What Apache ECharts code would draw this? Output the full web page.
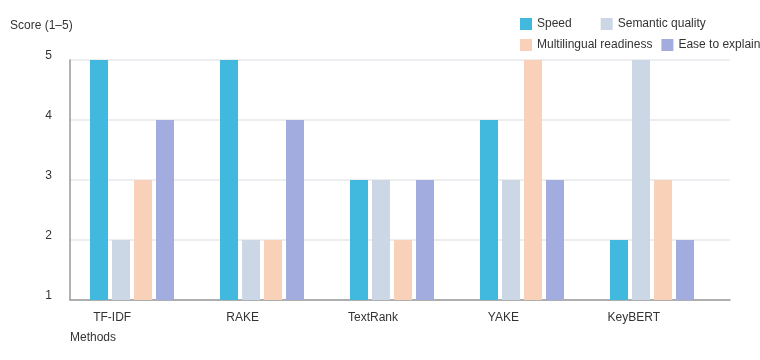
<!DOCTYPE html>
<html><head><meta charset="utf-8">
<script src="https://cdn.jsdelivr.net/npm/echarts@6/dist/echarts.min.js"></script>
<style>html,body{margin:0;padding:0;background:#fff}#c{width:760px;height:360px}</style>
</head><body><div id="c"></div>
<script>
const categories = ['TF-IDF', 'RAKE', 'TextRank', 'YAKE', 'KeyBERT'];
const seriesNames = ['Speed', 'Semantic quality', 'Multilingual readiness', 'Ease to explain'];
const speed = [5, 5, 3, 4, 2];
const semanticQuality = [2, 2, 3, 3, 5];
const multilingualReadiness = [3, 2, 2, 5, 3];
const easeToExplain = [4, 4, 3, 3, 2];
const yTicks = [1, 2, 3, 4, 5];
const colors = ['#41b9de', '#cbd7e4', '#f9d0b8', '#a3acdf'];

const values = [speed, semanticQuality, multilingualReadiness, easeToExplain];
const font = 'Liberation Sans, Arial, sans-serif';
const chart = echarts.init(document.getElementById('c'), null, {renderer: 'canvas'});
chart.setOption({
  animation: false,
  textStyle: {fontFamily: font},
  title: [
    {text: 'Score (1–5)', left: 5, top: 15, textStyle: {fontSize: 12, fontWeight: 'normal', color: '#333', fontFamily: font}},
    {text: 'Methods', left: 65, top: 327, textStyle: {fontSize: 12, fontWeight: 'normal', color: '#333', fontFamily: font}}
  ],
  legend: [
    {data: seriesNames.slice(0, 2), left: 515, top: 13, width: 260, itemWidth: 12, itemHeight: 12, itemGap: 29,
     icon: 'rect', textStyle: {fontSize: 12, color: '#333', fontFamily: font}},
    {data: seriesNames.slice(2), left: 515, top: 34, width: 260, itemWidth: 12, itemHeight: 12, itemGap: 9,
     icon: 'rect', textStyle: {fontSize: 12, color: '#333', fontFamily: font}}
  ],
  grid: [
    {left: 67, right: 43, top: 60, bottom: 60},
    {left: 70, right: 30, top: 60, bottom: 60},
    {left: 47, right: 61, top: 60, bottom: 60}
  ],
  xAxis: [
    {gridIndex: 0, type: 'category', data: categories, axisLine: {show: false}, axisTick: {show: false}, axisLabel: {show: false}},
    {gridIndex: 1, type: 'value', min: 0, max: 1, axisLine: {show: true, onZero: false, lineStyle: {color: '#999', width: 1.5}},
     axisTick: {show: false}, axisLabel: {show: false}, splitLine: {show: false}},
    {gridIndex: 2, type: 'category', data: categories, axisLine: {show: false}, axisTick: {show: false},
     axisLabel: {show: true, margin: 12, fontSize: 12, color: '#333', fontFamily: font}}
  ],
  yAxis: [
    {gridIndex: 0, type: 'value', min: 1, max: 5, show: false},
    {gridIndex: 1, type: 'value', min: 1, max: 5, interval: 1,
     axisLine: {show: true, lineStyle: {color: '#999', width: 1.5}}, axisTick: {show: false},
     axisLabel: {margin: 18, fontSize: 12, color: '#333', fontFamily: font, verticalAlign: 'bottom', lineHeight: 9,
       formatter: v => yTicks.includes(v) ? String(v) : ''},
     splitLine: {show: true, lineStyle: {color: '#e6e8ec', width: 1.5}}},
    {gridIndex: 2, type: 'value', min: 1, max: 5, show: false}
  ],
  series: seriesNames.map((name, i) => ({
    name, type: 'bar', xAxisIndex: 0, yAxisIndex: 0, data: values[i],
    barWidth: 18, barGap: '22.2%', itemStyle: {color: colors[i]}, z: 3
  }))
});
</script></body></html>
